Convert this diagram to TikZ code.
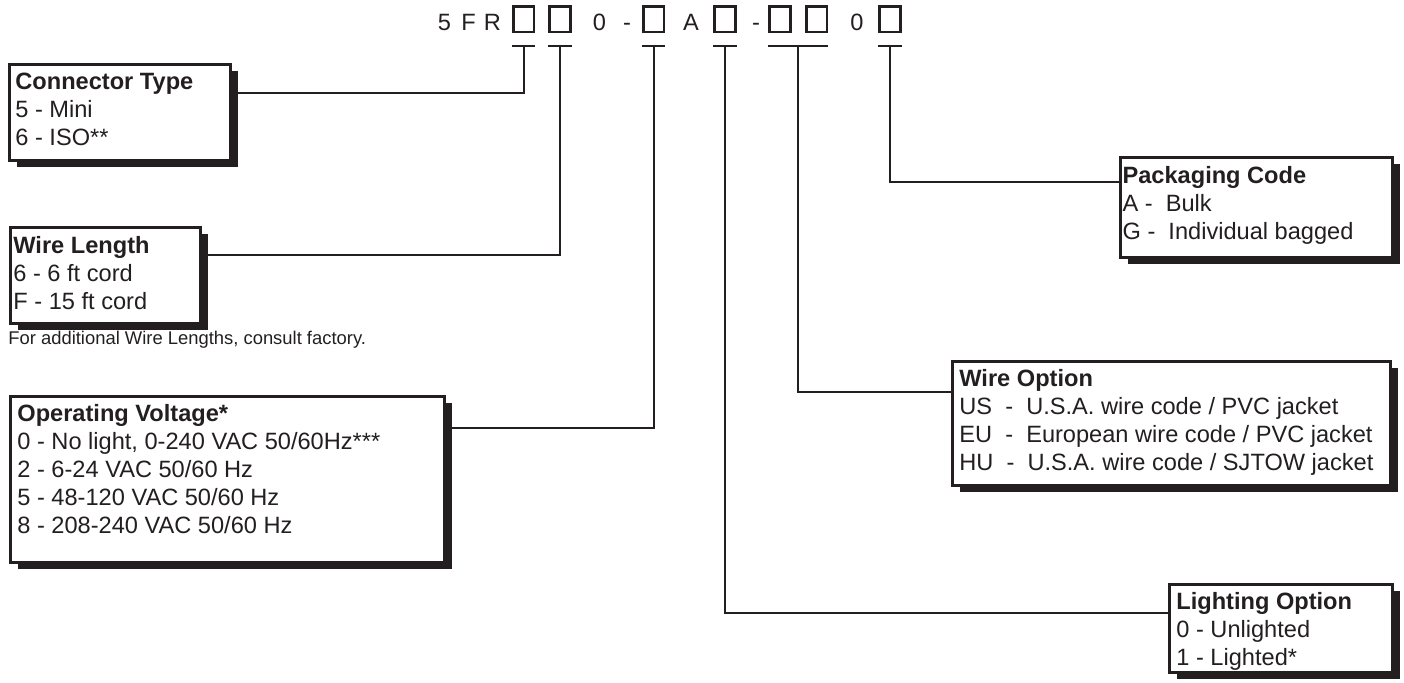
\documentclass[tikz,border=0pt]{standalone}
\usepackage{fontspec}
\setmainfont{Liberation Sans}
\usetikzlibrary{shadows,calc}
\definecolor{ink}{RGB}{35,31,32}

\begin{document}
\begin{tikzpicture}[x=0.5pt,y=-0.5pt,
    font=\fontsize{11.8}{14}\selectfont,
    slot/.style={draw=ink, line width=1.3pt, minimum width=10.3pt, minimum height=12.8pt, inner sep=0pt},
    chr/.style={text=ink, anchor=base, inner sep=0pt},
    panel/.style={draw=ink, fill=white, line width=1.3pt, anchor=north west, inner sep=0pt,
        drop shadow={fill=ink, opacity=1, shadow xshift=4pt, shadow yshift=-3.5pt}},
    paneltext/.style={anchor=north west, align=left, inner sep=0pt, text=ink},
    lead/.style={draw=ink, line width=1pt}]
    \useasboundingbox (0,0) rectangle (1404,682);

    % part number
    \node[chr] (c1) at (444.5,30) {5};
    \node[chr] (c2) at (468.5,30) {F};
    \node[chr] (c3) at (492.5,30) {R};
    \node[chr] (c4) at (599.5,30) {0};
    \node[chr] (c5) at (627,30) {-};
    \node[chr] (c6) at (691,30) {A};
    \node[chr] (c7) at (756,30) {-};
    \node[chr] (c8) at (857,30) {0};

    \node[slot] (s1) at (523.5,19) {};
    \node[slot] (s2) at (560,19) {};
    \node[slot] (s3) at (653.5,19) {};
    \node[slot] (s4) at (725,19) {};
    \node[slot] (s5) at (780,19) {};
    \node[slot] (s6) at (816.5,19) {};
    \node[slot] (s7) at (890,19) {};

    \coordinate (t1) at ([yshift=-6.5pt]s1.south);
    \coordinate (t2) at ([yshift=-6.5pt]s2.south);
    \coordinate (t3) at ([yshift=-6.5pt]s3.south);
    \coordinate (t4) at ([yshift=-6.5pt]s4.south);
    \coordinate (t56) at ($(s5.south)!0.5!(s6.south)+(0,-6.5pt)$);
    \coordinate (t7) at ([yshift=-6.5pt]s7.south);

    % option boxes
    \node[panel, minimum width=110.5pt, minimum height=48pt] (ct) at (8,63) {};
    \node[paneltext] (cttext) at ([xshift=3.5pt,yshift=-5pt]ct.north west)
        {\textbf{Connector Type}\\5 - Mini\\6 - ISO**};

    \node[panel, minimum width=95pt, minimum height=48pt] (wl) at (9,226) {};
    \node[paneltext] (wltext) at ([xshift=2pt,yshift=-5pt]wl.north west)
        {\textbf{Wire Length}\\6 - 6 ft cord\\F - 15 ft cord};
    \node[text=ink, anchor=base west, inner sep=0pt, font=\fontsize{9.2}{11}\selectfont] (note) at (8,344)
        {For additional Wire Lengths, consult factory.};

    \node[panel, minimum width=217pt, minimum height=83pt] (ov) at (9,395) {};
    \node[paneltext] (ovtext) at ([xshift=4pt,yshift=-4.3pt]ov.north west)
        {\textbf{Operating Voltage*}\\0 - No light, 0-240 VAC 50/60Hz***\\2 - 6-24 VAC 50/60 Hz\\5 - 48-120 VAC 50/60 Hz\\8 - 208-240 VAC 50/60 Hz};

    \node[panel, minimum width=136pt, minimum height=50pt] (pc) at (1119,156) {};
    \node[paneltext] (pctext) at ([xshift=1.6pt,yshift=-5pt]pc.north west)
        {\textbf{Packaging Code}\\A - \ Bulk\\G - \ Individual bagged};

    \node[panel, minimum width=219pt, minimum height=62pt] (wo) at (951,360) {};
    \node[paneltext] (wotext) at ([xshift=4pt,yshift=-4.5pt]wo.north west)
        {\textbf{Wire Option}\\US \ - \ U.S.A. wire code / PVC jacket\\EU \ - \ European wire code / PVC jacket\\HU \ - \ U.S.A. wire code / SJTOW jacket};

    \node[panel, minimum width=111.5pt, minimum height=44pt] (lo) at (1168,583) {};
    \node[paneltext] (lotext) at ([xshift=4pt,yshift=-4.3pt]lo.north west)
        {\textbf{Lighting Option}\\0 - Unlighted\\1 - Lighted*};

    % ticks under the slots
    \draw[lead] (t1 -| s1.west) -- (t1 -| s1.east);
    \draw[lead] (t2 -| s2.west) -- (t2 -| s2.east);
    \draw[lead] (t3 -| s3.west) -- (t3 -| s3.east);
    \draw[lead] (t4 -| s4.west) -- (t4 -| s4.east);
    \draw[lead] (t56 -| s5.west) -- (t56 -| s6.east);
    \draw[lead] (t7 -| s7.west) -- (t7 -| s7.east);

    % leaders
    \draw[lead] (t1) |- ([yshift=-15pt]ct.north east);
    \draw[lead] (t2) |- ([yshift=-14.5pt]wl.north east);
    \draw[lead] (t3) |- ([yshift=-16.5pt]ov.north east);
    \draw[lead] (t4) |- ([yshift=-15pt]lo.north west);
    \draw[lead] (t56) |- ([yshift=-16pt]wo.north west);
    \draw[lead] (t7) |- ([yshift=-13pt]pc.north west);

\end{tikzpicture}
\end{document}
